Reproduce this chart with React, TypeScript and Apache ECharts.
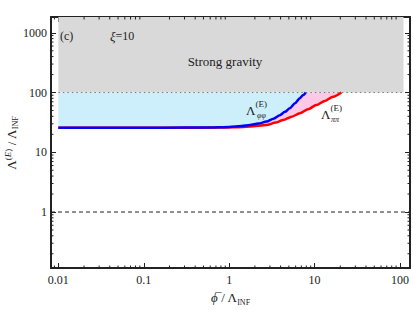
import React, { useEffect, useRef } from "react";
import * as echarts from "echarts";

// Axis ranges (log)
const xMin = 0.0082;
const xMax = 131;
const yMin = 0.1156;
const yMax = 1840;

// Tick labels
const xTickValues = [0.01, 0.1, 1, 10, 100];
const xTickLabels = ["0.01", "0.1", "1", "10", "100"];
const yTickValues = [1, 10, 100, 1000];
const yTickLabels = ["1", "10", "100", "1000"];
const xMinorTicks = [
  0.009, 0.02, 0.03, 0.04, 0.05, 0.06, 0.07, 0.08, 0.09, 0.2, 0.3, 0.4, 0.5, 0.6, 0.7, 0.8, 0.9, 2, 3, 4,
  5, 6, 7, 8, 9, 20, 30, 40, 50, 60, 70, 80, 90,
];
const yMinorTicks = [
  0.2, 0.3, 0.4, 0.5, 0.6, 0.7, 0.8, 0.9, 2, 3, 4, 5, 6, 7, 8, 9, 20, 30, 40, 50, 60, 70, 80, 90, 200, 300,
  400, 500, 600, 700, 800, 900,
];

// Λ_φφ^(E) (blue)
const blueX = [0.01, 0.1, 0.3, 0.6, 1.0, 1.4, 1.75, 2.2, 2.74, 3.3, 3.92, 4.5, 5.13, 5.9, 6.71, 7.3, 7.88];
const blueY = [25.8, 25.8, 25.9, 26.1, 26.6, 27.5, 28.6, 30.2, 32.7, 36.6, 41.8, 47.5, 54.6, 66, 80, 90, 100];

// Λ_ππ^(E) (red)
const redX = [0.01, 0.3, 0.7, 1.2, 1.75, 2.74, 3.5, 4.28, 5.4, 6.71, 8.4, 10.5, 13.2, 16.5, 20.6];
const redY = [25.8, 25.8, 25.9, 26.2, 26.9, 28.6, 31.4, 34.7, 39.5, 44.9, 52.5, 61.8, 72.5, 85, 100];

// Region bounds
const strongGravityLevel = 100;
const regionX = [0.01, 110];
const unityLevel = 1;

const SERIF = "'Liberation Serif', 'DejaVu Serif', serif";
const INK = "#222";

const fmt = (values: number[], labels: string[]) => (v: number) => {
  for (let i = 0; i < values.length; i++) {
    if (Math.abs(Math.log10(v) - Math.log10(values[i])) < 1e-6) return labels[i];
  }
  return "";
};

export default function App() {
  const ref = useRef<HTMLDivElement>(null);
  useEffect(() => {
    if (!ref.current) return;
    const chart = echarts.init(ref.current, undefined, { renderer: "svg" });

    const blueCurve = blueX.map((x, i) => [x, blueY[i]]);
    const redCurve = redX.map((x, i) => [x, redY[i]]);

    const polySeries = (pts: number[][], fill: string, z: number) => ({
      type: "custom",
      xAxisIndex: 0,
      yAxisIndex: 0,
      z,
      silent: true,
      clip: true,
      data: [[1, 1]],
      renderItem: (_p: any, api: any) => ({
        type: "polygon",
        shape: { points: pts.map((p) => api.coord(p)) },
        style: { fill, stroke: null },
      }),
    });

    const grayPts = [
      [regionX[0], strongGravityLevel],
      [regionX[1], strongGravityLevel],
      [regionX[1], yMax],
      [regionX[0], yMax],
    ];
    const bluePts = [...blueCurve, [blueX[0], strongGravityLevel]];
    const pinkPts = [...blueCurve, ...redCurve.slice().reverse()];

    const axisCommon = {
      type: "log",
      logBase: 10,
      splitLine: { show: false },
      axisLine: { show: true, lineStyle: { color: INK, width: 2 } },
      axisTick: { show: true, inside: true, length: 5, lineStyle: { color: INK, width: 1 } },
    };

    const tickLen = 2.5;
    const xTicksSeries = {
      type: "custom",
      xAxisIndex: 0,
      yAxisIndex: 0,
      z: 10,
      silent: true,
      clip: false,
      data: xMinorTicks.map((v) => [v, 1]),
      renderItem: (params: any, api: any) => {
        const cs = params.coordSys;
        const px = api.coord([api.value(0), 1])[0];
        const b = cs.y + cs.height;
        return {
          type: "group",
          children: [
            { type: "line", shape: { x1: px, y1: b, x2: px, y2: b - tickLen }, style: { stroke: INK, lineWidth: 1 } },
            { type: "line", shape: { x1: px, y1: cs.y, x2: px, y2: cs.y + tickLen }, style: { stroke: INK, lineWidth: 1 } },
          ],
        };
      },
    };
    const yTicksSeries = {
      type: "custom",
      xAxisIndex: 0,
      yAxisIndex: 0,
      z: 10,
      silent: true,
      clip: false,
      data: yMinorTicks.map((v) => [1, v]),
      renderItem: (params: any, api: any) => {
        const cs = params.coordSys;
        const py = api.coord([1, api.value(1)])[1];
        const r = cs.x + cs.width;
        return {
          type: "group",
          children: [
            { type: "line", shape: { x1: cs.x, y1: py, x2: cs.x + tickLen, y2: py }, style: { stroke: INK, lineWidth: 1 } },
            { type: "line", shape: { x1: r, y1: py, x2: r - tickLen, y2: py }, style: { stroke: INK, lineWidth: 1 } },
          ],
        };
      },
    };

    const mainRich = {
      a: { fontFamily: SERIF, fontSize: 13, color: INK, lineHeight: 18, verticalAlign: "middle" },
      i: { fontFamily: SERIF, fontSize: 13, color: INK, lineHeight: 18, fontStyle: "italic", verticalAlign: "middle" },
      sup: { fontFamily: SERIF, fontSize: 9, color: INK, lineHeight: 9, verticalAlign: "top" },
      supi: { fontFamily: SERIF, fontSize: 9, color: INK, lineHeight: 9, fontStyle: "italic", verticalAlign: "top" },
      sub: { fontFamily: SERIF, fontSize: 8, color: INK, lineHeight: 8, verticalAlign: "bottom" },
    };

    const lbl = (x: number, y: number, text: string, size: number, italic = false, align = "left") => ({
      type: "text",
      x,
      y,
      silent: true,
      z: 100,
      style: {
        text,
        fontFamily: SERIF,
        fontSize: size,
        fontStyle: italic ? "italic" : "normal",
        fill: INK,
        align,
        verticalAlign: "middle",
      },
    });

    chart.setOption({
      animation: false,
      backgroundColor: "#fff",
      textStyle: { color: INK, fontFamily: SERIF },
      grid: { left: 51, right: 3, top: 17, bottom: 42, containLabel: false, outerBoundsMode: "none" },
      xAxis: [
        {
          ...axisCommon,
          position: "bottom",
          min: xMin,
          max: xMax,
          axisLabel: {
            formatter: fmt(xTickValues, xTickLabels),
            fontFamily: SERIF,
            fontSize: 12,
            color: INK,
            margin: 6,
            showMinLabel: false,
            showMaxLabel: false,
          },
          name: "{i|ϕ\u0305}{a| / Λ}{sub|INF}",
          nameLocation: "middle",
          nameGap: 19,
          nameTextStyle: { color: INK, rich: mainRich },
        },
        {
          ...axisCommon,
          position: "top",
          min: xMin,
          max: xMax,
          axisLabel: { show: false },
        },
      ],
      yAxis: [
        {
          ...axisCommon,
          position: "left",
          min: yMin,
          max: yMax,
          axisLabel: {
            formatter: fmt(yTickValues, yTickLabels),
            fontFamily: SERIF,
            fontSize: 12,
            color: INK,
            margin: 4,
            showMinLabel: false,
            showMaxLabel: false,
          },
        },
        {
          ...axisCommon,
          position: "right",
          min: yMin,
          max: yMax,
          axisLabel: { show: false },
        },
      ],
      series: [
        polySeries(grayPts, "#d9d9d9", 1),
        polySeries(bluePts, "#cdeffc", 2),
        polySeries(pinkPts, "#fcc9e6", 2),
        {
          type: "line",
          z: 3,
          silent: true,
          symbol: "none",
          data: [
            [regionX[0], strongGravityLevel],
            [regionX[1], strongGravityLevel],
          ],
          lineStyle: { color: "#777", width: 1, type: [1.5, 3] },
        },
        {
          type: "line",
          z: 3,
          silent: true,
          symbol: "none",
          data: [
            [xMin, unityLevel],
            [xMax, unityLevel],
          ],
          lineStyle: { color: INK, width: 1, type: [4, 3] },
        },
        {
          type: "line",
          z: 4,
          silent: true,
          symbol: "none",
          smooth: 0.25,
          smoothMonotone: "x",
          data: redCurve,
          lineStyle: { color: "#ff0000", width: 2.5, join: "round" },
        },
        {
          type: "line",
          z: 5,
          silent: true,
          symbol: "none",
          smooth: 0.25,
          smoothMonotone: "x",
          data: blueCurve,
          lineStyle: { color: "#0000ff", width: 2.5, join: "round" },
        },
        xTicksSeries,
        yTicksSeries,
      ],
      graphic: [
        {
          type: "text",
          x: 11,
          y: 143,
          rotation: Math.PI / 2,
          silent: true,
          z: 100,
          style: {
            text: "{a|Λ}{sup|(}{supi|E}{sup|)}{a| / Λ}{sub|INF}",
            align: "center",
            verticalAlign: "middle",
            rich: {
              a: { fontFamily: SERIF, fontSize: 13, fill: INK, lineHeight: 16, verticalAlign: "middle" },
              sup: { fontFamily: SERIF, fontSize: 9, fill: INK, lineHeight: 9, verticalAlign: "top" },
              supi: { fontFamily: SERIF, fontSize: 9, fill: INK, lineHeight: 9, fontStyle: "italic", verticalAlign: "top" },
              sub: { fontFamily: SERIF, fontSize: 8, fill: INK, lineHeight: 8, verticalAlign: "bottom" },
            },
          },
        },
        lbl(60, 36, "(c)", 12),
        {
          type: "text",
          x: 110,
          y: 36,
          silent: true,
          z: 100,
          style: {
            text: "{i|ξ}{a|=10}",
            verticalAlign: "middle",
            rich: {
              i: { fontFamily: SERIF, fontSize: 13, fontStyle: "italic", fill: INK },
              a: { fontFamily: SERIF, fontSize: 12, fill: INK },
            },
          },
        },
        lbl(225, 61, "Strong gravity", 13, false, "center"),
        lbl(246, 110, "Λ", 13),
        lbl(255.5, 104, "(E)", 9, false),
        lbl(257, 115.5, "φφ", 8, true),
        lbl(321, 114, "Λ", 13),
        lbl(330.5, 108, "(E)", 9, false),
        lbl(331, 119.5, "ππ", 8, true),
      ],
    });
    return () => chart.dispose();
  }, []);
  return <div ref={ref} style={{ position: "fixed", left: 0, top: 0, width: 413, height: 310 }} />;
}
